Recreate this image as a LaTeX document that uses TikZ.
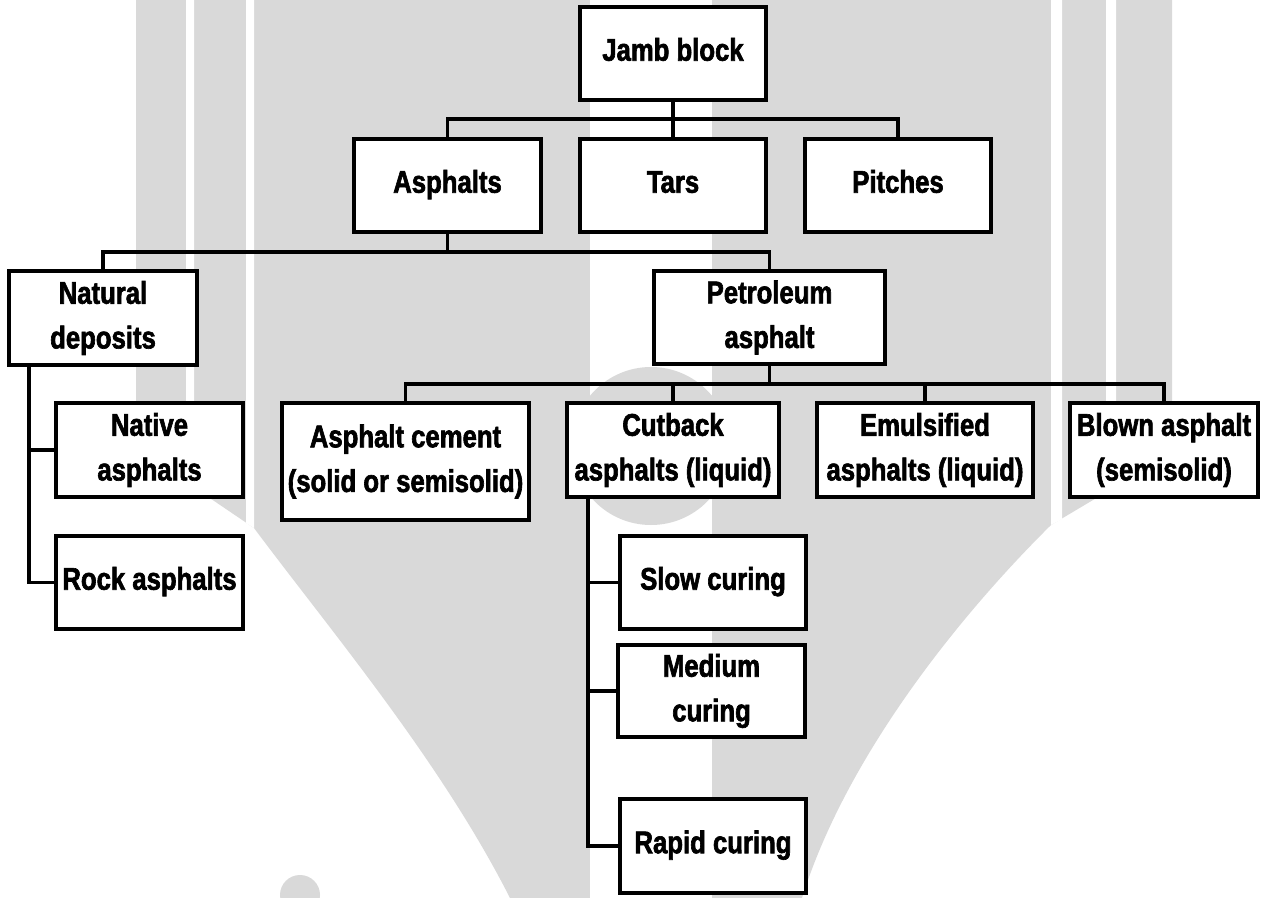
\documentclass[tikz,border=0pt]{standalone}
\usepackage{fontspec}
\newfontfamily\boxfont{Liberation Sans}[UprightFont=*-Bold,FakeStretch=0.82,FakeBold=2]
\definecolor{wm}{RGB}{217,217,217}
\newcommand\bx[7][]{\node[box,#1, minimum width={(#5-#3)*0.75pt}, minimum height={(#6-#4)*0.75pt}] (#2) at ({(#3+#5)/2},{(#4+#6)/2}) {#7};}
\begin{document}
\begin{tikzpicture}[x=0.75pt,y=-0.75pt,
  box/.style={draw=black, line width=2.4pt, fill=white, inner sep=0pt, align=center,
    font=\boxfont\fontsize{23.5pt}{33.5pt}\selectfont},
  oneline/.style={text height=17pt, text depth=6.2pt},
  conn/.style={draw=black, line width=2.4pt}]
\fill[white] (0,0) rectangle (1267,898);
\useasboundingbox (0,0) rectangle (1267,898);
% watermark
\fill[wm] (136,0) -- (1172,0) -- (1172,453) -- (1051,525)
  .. controls (955,620) and (845,760) .. (802,898) -- (510,898)
  .. controls (440,760) and (330,630) .. (254,528) -- (136,448) -- cycle;
\fill[white] (186,0) -- (194,0) -- (194,488) -- (186,482) -- cycle;
\fill[white] (246,0) -- (254,0) -- (254,528) -- (246,523) -- cycle;
\fill[white] (1051,0) -- (1062,0) -- (1062,519) -- (1051,525) -- cycle;
\fill[white] (1106,0) -- (1116,0) -- (1116,486) -- (1106,492) -- cycle;
\fill[white] (590,0) rectangle (712,898);
\fill[wm] (651,446) circle[radius=59.25pt];
\fill[wm] (300,895) circle[radius=15pt];
% boxes
\bx[oneline]{jamb}{580}{7}{766}{100}{Jamb block}
\bx[oneline]{asph}{354}{139}{541}{232}{Asphalts}
\bx[oneline]{tars}{580}{139}{766}{232}{Tars}
\bx[oneline]{pitch}{805}{139}{991}{232}{Pitches}
\bx{nat}{9}{271}{197}{365}{Natural\\deposits}
\bx{pet}{654}{271}{885}{364}{Petroleum\\asphalt}
\bx{native}{56}{403}{243}{497}{Native\\asphalts}
\bx[oneline]{rock}{56}{536}{243}{629}{Rock asphalts}
\bx{cem}{282}{403}{529}{520}{Asphalt cement\\(solid or semisolid)}
\bx{cut}{567}{403}{779}{497}{Cutback\\asphalts (liquid)}
\bx{emu}{817}{403}{1033}{497}{Emulsified\\asphalts (liquid)}
\bx{blown}{1070}{403}{1258}{497}{Blown asphalt\\(semisolid)}
\bx[oneline]{slow}{620}{536}{806}{629}{Slow curing}
\bx{med}{618}{645}{805}{737}{Medium\\curing}
\bx[oneline]{rapid}{620}{799}{806}{893}{Rapid curing}
% connectors
\coordinate (y1) at (0,119);
\coordinate (y2) at (0,252);
\coordinate (y3) at (0,384);
\coordinate (nx) at (29,0);
\coordinate (cx) at (588,0);
\coordinate (b1) at (jamb.south |- y1);
\coordinate (b2) at (asph.south |- y2);
\coordinate (b3) at (pet.south |- y3);
\draw[conn] (jamb.south) -- (b1);
\draw[conn] (asph.north) |- (b1) -| (pitch.north);
\draw[conn] (tars.north) -- (b1);
\draw[conn] (asph.south) -- (b2);
\draw[conn] (nat.north) |- (b2) -| (pet.north);
\draw[conn] (pet.south) -- (b3);
\draw[conn] (cem.north) |- (b3) -| (blown.north);
\draw[conn] (cut.north) |- (b3);
\draw[conn] (emu.north) |- (b3);
\draw[conn] (nat.south -| nx) |- (rock.west);
\draw[conn] (native.west) -- (native.west -| nx);
\draw[conn] (cut.south -| cx) |- (rapid.west);
\draw[conn] (slow.west) -- (slow.west -| cx);
\draw[conn] (med.west) -- (med.west -| cx);
\end{tikzpicture}
\end{document}
